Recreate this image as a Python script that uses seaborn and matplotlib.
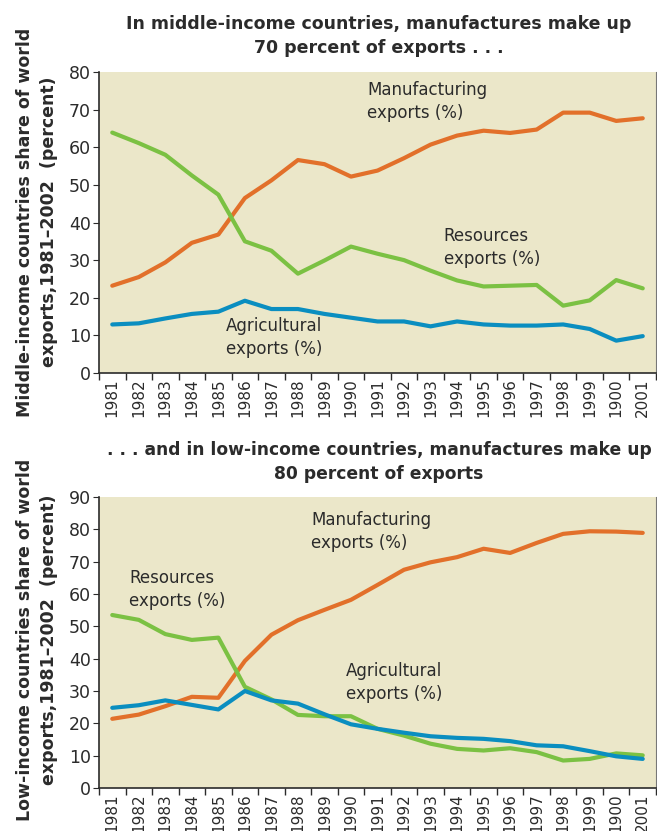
#!/usr/bin/env python

import numpy as np
import pandas as pd
import seaborn as sns
from matplotlib import pyplot as plt
from matplotlib import font_manager

# years as printed on the original axis (note the "1900" typo for 2000)
year_labels = ["1981", "1982", "1983", "1984", "1985", "1986", "1987", "1988",
               "1989", "1990", "1991", "1992", "1993", "1994", "1995", "1996",
               "1997", "1998", "1999", "1900", "2001"]

# middle-income countries
mid_manuf = [23.2, 25.5, 29.4, 34.6, 36.8, 46.5, 51.2, 56.6, 55.5, 52.2, 53.8,
             57.1, 60.7, 63.1, 64.4, 63.8, 64.7, 69.2, 69.2, 67.0, 67.7]
mid_resources = [63.9, 61.1, 58.0, 52.5, 47.4, 35.0, 32.5, 26.4, 29.9, 33.6, 31.7,
                 30.0, 27.2, 24.6, 23.0, 23.2, 23.4, 17.9, 19.3, 24.7, 22.5]
mid_agri = [12.9, 13.2, 14.5, 15.7, 16.3, 19.2, 17.0, 17.0, 15.7, 14.7, 13.7,
            13.7, 12.4, 13.7, 12.9, 12.6, 12.6, 12.9, 11.7, 8.6, 9.8]

# low-income countries
low_manuf = [21.4, 22.7, 25.3, 28.2, 27.9, 39.3, 47.4, 51.9, 55.1, 58.2, 62.8,
             67.5, 69.8, 71.4, 74.0, 72.7, 75.8, 78.6, 79.4, 79.3, 78.9]
low_resources = [53.5, 52.0, 47.6, 45.8, 46.5, 31.3, 27.4, 22.6, 22.2, 22.2, 18.3,
                 16.2, 13.7, 12.1, 11.6, 12.3, 11.1, 8.5, 9.0, 10.7, 10.1]
low_agri = [24.8, 25.6, 27.1, 25.7, 24.3, 30.0, 27.1, 26.1, 22.8, 19.7, 18.3,
            17.1, 16.0, 15.5, 15.2, 14.5, 13.2, 12.9, 11.4, 9.8, 9.0]

series_names = ["Manufacturing", "Resources", "Agricultural"]
colors = ["#e2702a", "#7bc143", "#0a8ec0"]
bg = "#ebe7c9"
ink = "#2b2b2b"

sns.set_style("ticks")
installed = {f.name for f in font_manager.fontManager.ttflist}
fam = [f for f in ["Liberation Sans Narrow", "DejaVu Sans Condensed", "DejaVu Sans"] if f in installed]
plt.rcParams["font.family"] = fam
plt.rcParams["text.color"] = ink


def make_frame(manuf, res, agri):
    n = len(year_labels)
    return pd.DataFrame({
        "pos": list(range(n)) * 3,
        "value": manuf + res + agri,
        "series": [series_names[0]] * n + [series_names[1]] * n + [series_names[2]] * n,
    })


def draw(ax, df, ymax, notes):
    ax.set_facecolor(bg)
    sns.lineplot(data=df, x="pos", y="value", hue="series", palette=colors,
                 linewidth=3, legend=False, ax=ax)
    n = len(year_labels)
    ax.set_xlim(-0.5, n - 0.5)
    ax.set_ylim(0, ymax)
    ax.set_yticks(np.arange(0, ymax + 1, 10))
    ax.set_xticks(np.arange(-0.5, n, 1.0))
    ax.set_xticklabels([])
    ax.set_xticks(np.arange(n), minor=True)
    ax.set_xticklabels(year_labels, minor=True, rotation=90)
    ax.tick_params(axis="x", which="minor", length=0, labelsize=11, colors=ink, pad=4)
    ax.tick_params(axis="x", which="major", length=5, color=ink, width=1)
    ax.tick_params(axis="y", length=4, labelsize=12.5, colors=ink, pad=2)
    ax.set_xlabel("")
    ax.set_ylabel("")
    ax.spines["top"].set_visible(False)
    ax.spines["right"].set_color("#777777")
    ax.spines["right"].set_linewidth(0.8)
    for s in ["left", "bottom"]:
        ax.spines[s].set_color(ink)
        ax.spines[s].set_linewidth(1.2)
    for x, y, txt in notes:
        ax.text(x, y, txt, ha="left", va="top", fontsize=12, color=ink, linespacing=1.35)


fig = plt.figure(figsize=(6.57, 8.31), dpi=100)
ax1 = fig.add_axes([99 / 657, 1 - 373 / 831, 557 / 657, 301 / 831])
ax2 = fig.add_axes([99 / 657, 1 - 788 / 831, 557 / 657, 291 / 831])

draw(ax1, make_frame(mid_manuf, mid_resources, mid_agri), 80,
     [(9.6, 77.6, "Manufacturing\nexports (%)"),
      (12.5, 38.8, "Resources\nexports (%)"),
      (4.3, 14.8, "Agricultural\nexports (%)")])
draw(ax2, make_frame(low_manuf, low_resources, low_agri), 90,
     [(7.5, 85.6, "Manufacturing\nexports (%)"),
      (0.63, 67.6, "Resources\nexports (%)"),
      (8.8, 38.9, "Agricultural\nexports (%)")])

fig.text(379 / 657, 1 - 36 / 831,
         "In middle-income countries, manufactures make up\n70 percent of exports . . .",
         ha="center", va="center", fontsize=12.5, fontweight="bold", linespacing=1.4)
fig.text(379 / 657, 1 - 462 / 831,
         ". . . and in low-income countries, manufactures make up\n80 percent of exports",
         ha="center", va="center", fontsize=12.3, fontweight="bold", linespacing=1.4)

fig.text(37 / 657, 1 - 222 / 831,
         "Middle-income countries share of world\nexports,1981\u20132002  (percent)",
         ha="center", va="center", rotation=90, fontsize=12.5, fontweight="bold", linespacing=1.4)
fig.text(37 / 657, 1 - 640 / 831,
         "Low-income countries share of world\nexports,1981\u20132002  (percent)",
         ha="center", va="center", rotation=90, fontsize=12.5, fontweight="bold", linespacing=1.4)

plt.savefig("out.png", dpi=100, facecolor="white")
plt.close(fig)
